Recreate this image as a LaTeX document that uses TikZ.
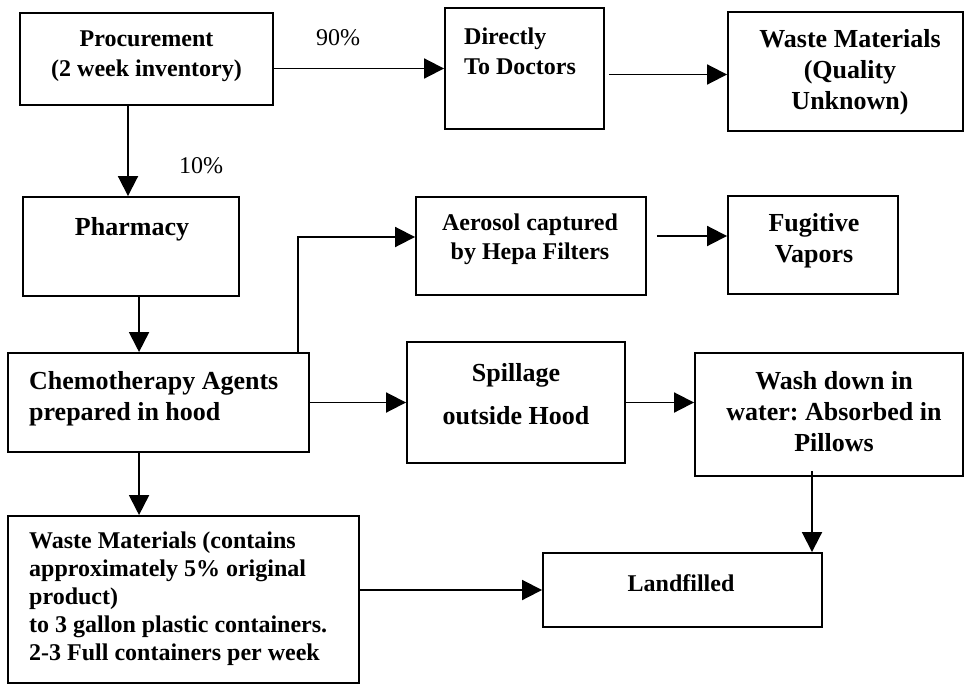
\documentclass[tikz,border=0pt]{standalone}
\usepackage{fontspec}
\setmainfont{Liberation Serif}
\usetikzlibrary{arrows.meta,calc}
\frenchspacing

\begin{document}
\begin{tikzpicture}[x=1pt,y=1pt,yscale=-1,xscale=1,
    box/.style={draw, rectangle, line width=1.9pt, inner sep=0pt},
    lbl/.style={font=\fontsize{24}{29}\selectfont\bfseries, align=center, inner sep=0pt},
    biglbl/.style={font=\fontsize{26}{31}\selectfont\bfseries, align=center, inner sep=0pt},
    pct/.style={font=\fontsize{24}{29}\selectfont, inner sep=0pt},
    arr/.style={line width=1.9pt, -{Triangle[length=20pt,width=20pt]}}]
    \useasboundingbox (0,0) rectangle (965,685);

    %Shape: Rectangle [procurement]
    \node [box, minimum width=253, minimum height=92] (proc) at (146.5,59) {};
    %Shape: Rectangle [directly to doctors]
    \node [box, minimum width=159, minimum height=121] (doc) at (524.5,68.5) {};
    %Shape: Rectangle [waste quality unknown]
    \node [box, minimum width=235, minimum height=119] (wq) at (845.5,71.5) {};
    %Shape: Rectangle [pharmacy]
    \node [box, minimum width=216, minimum height=99] (pharm) at (131,246.5) {};
    %Shape: Rectangle [aerosol]
    \node [box, minimum width=230, minimum height=98] (aero) at (531,246) {};
    %Shape: Rectangle [fugitive vapors]
    \node [box, minimum width=170, minimum height=98] (fug) at (813,245) {};
    %Shape: Rectangle [chemotherapy]
    \node [box, minimum width=301, minimum height=99] (chemo) at (158.5,402.5) {};
    %Shape: Rectangle [spillage]
    \node [box, minimum width=218, minimum height=121] (spill) at (516,402.5) {};
    %Shape: Rectangle [wash down]
    \node [box, minimum width=268, minimum height=123] (wash) at (829,414.5) {};
    %Shape: Rectangle [waste containers]
    \node [box, minimum width=351, minimum height=167] (waste) at (183.5,599.5) {};
    %Shape: Rectangle [landfilled]
    \node [box, minimum width=279, minimum height=74] (land) at (682.5,590) {};

    %Points on the boxes
    \coordinate (p1) at ($(pharm.north)+(-3,0)$);
    \coordinate (c1) at ($(chemo.north west)+(132,0)$);
    \coordinate (c2) at ($(chemo.north east)+(-12,0)$);
    \coordinate (a1) at ($(aero.west)+(0,-9)$);
    \coordinate (a2) at ($(aero.east)+(10,-10)$);
    \coordinate (d2) at ($(doc.east)+(4,6)$);
    \coordinate (w1) at ($(wash.south)+(-17,-6)$);

    %Straight Lines
    \draw [arr] (proc.east |- doc.west) -- (doc.west);
    \draw [arr] (d2) -- (d2 -| wq.west);
    \draw [arr] (proc.south -| p1) -- (p1);
    \draw [arr] (pharm.south -| c1) -- (c1);
    \draw [arr] (c2) |- (a1);
    \draw [arr] (a2) -- (a2 -| fug.west);
    \draw [arr] (chemo.east) -- (spill.west);
    \draw [arr] (spill.east) -- (spill.east -| wash.west);
    \draw [arr] (chemo.south -| c1) -- (c1 |- waste.north);
    \draw [arr] (waste.east |- land.west) -- (land.west);
    \draw [arr] (w1) -- (w1 |- land.north);

    % Text Node
    \node [lbl, font=\fontsize{24}{30}\selectfont\bfseries] (tproc) at (146.5,56) {Procurement\\(2 week inventory)};
    % Text Node
    \node [pct] (t90) at (338,38) {90\%};
    % Text Node
    \node [pct] (t10) at (201,166) {10\%};
    % Text Node
    \node [lbl, align=left, anchor=west, font=\fontsize{24}{30}\selectfont\bfseries] (tdoc) at (464,51) {Directly\\To Doctors};
    % Text Node
    \node [biglbl] (twq) at (850,72) {Waste Materials\\(Quality\\Unknown)};
    % Text Node
    \node [biglbl] (tpharm) at (132,229) {Pharmacy};
    % Text Node
    \node [lbl] (taero) at (530,239) {Aerosol captured\\by Hepa Filters};
    % Text Node
    \node [biglbl] (tfug) at (814,241) {Fugitive\\Vapors};
    % Text Node
    \node [biglbl, align=left, anchor=west] (tchemo) at (29,399) {Chemotherapy Agents\\prepared in hood};
    % Text Node
    \node [biglbl] (tspill) at (516,394) {Spillage\\[12pt]outside Hood};
    % Text Node
    \node [biglbl] (twash) at (834,412) {Wash down in\\water: Absorbed in\\Pillows};
    % Text Node
    \node [lbl, align=left, anchor=west, font=\fontsize{24}{28}\selectfont\bfseries] (twaste) at (29,599) {Waste Materials (contains\\approximately 5\% original\\product)\\to 3 gallon plastic containers.\\2-3 Full containers per week};
    % Text Node
    \node [lbl] (tland) at (681,583) {Landfilled};
\end{tikzpicture}
\end{document}
